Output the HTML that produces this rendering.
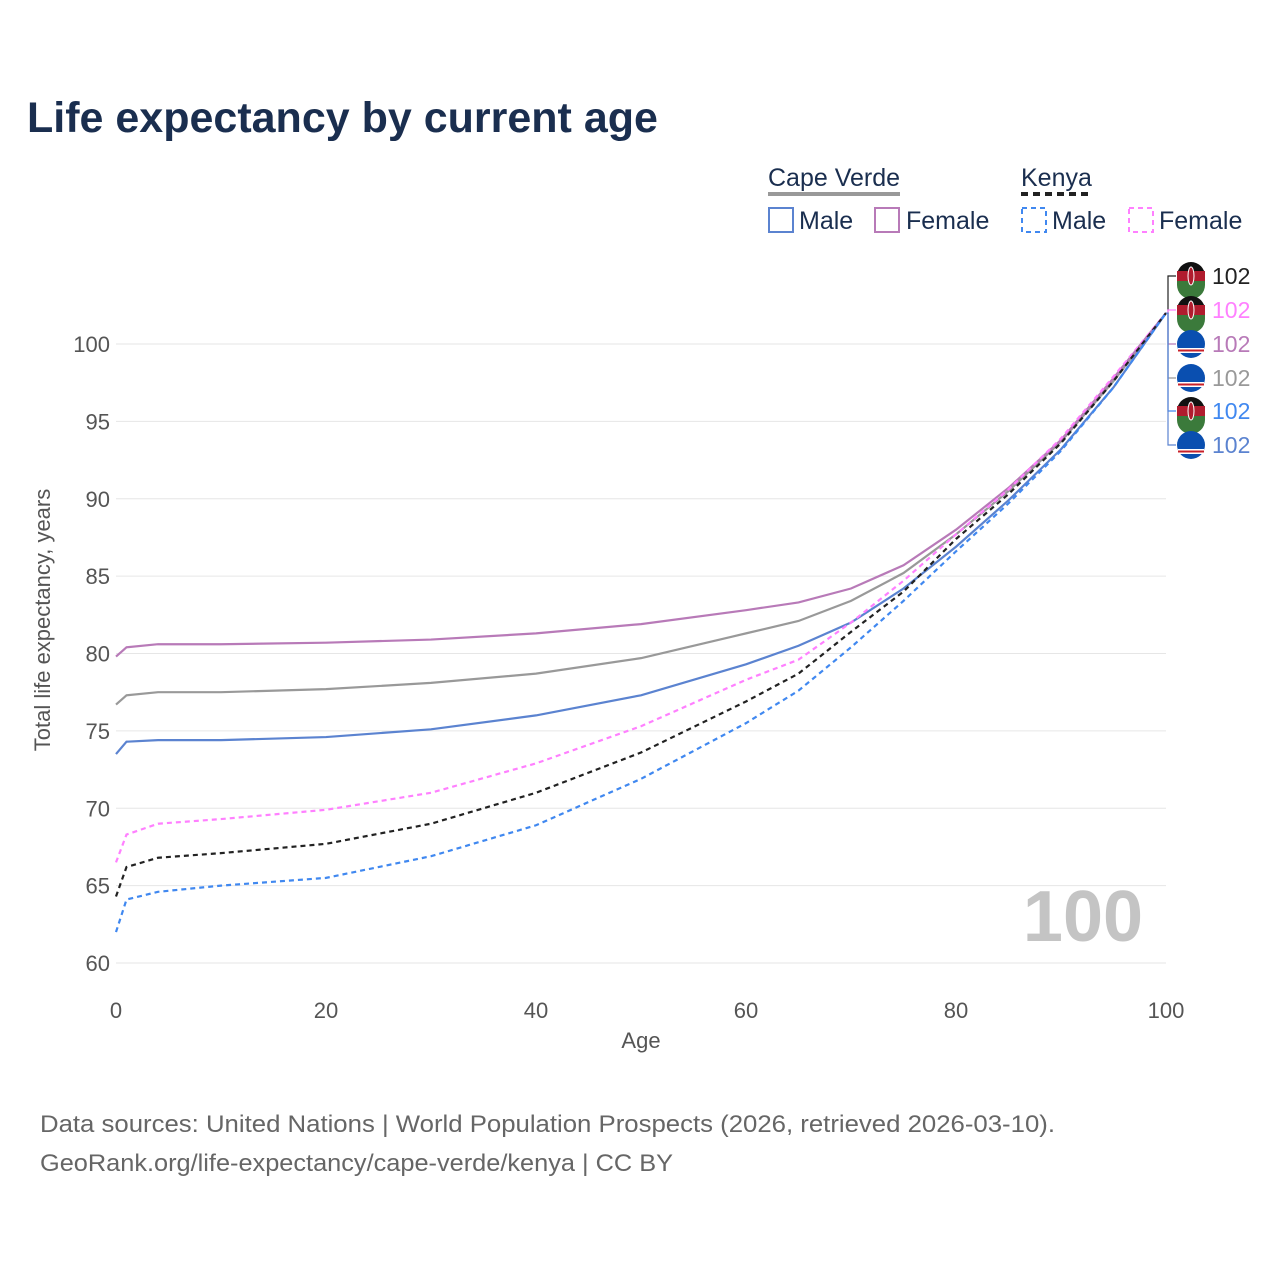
<!DOCTYPE html>
<html><head><meta charset="utf-8"><style>
body{margin:0;background:#fff;width:1280px;height:1280px;overflow:hidden;font-family:"Liberation Sans",sans-serif}
</style></head><body>
<svg id="s" width="1280" height="1280" xmlns="http://www.w3.org/2000/svg" font-family="Liberation Sans, sans-serif">
<text x="27" y="132" font-size="43" font-weight="bold" fill="#1a2e4f">Life expectancy by current age</text>
<g font-size="25" fill="#1a2e4f">
<text x="768" y="186">Cape Verde</text>
<rect x="768" y="192" width="132" height="4" fill="#999"/>
<text x="1021" y="186">Kenya</text>
<line x1="1021" y1="194" x2="1092" y2="194" stroke="#222" stroke-width="4" stroke-dasharray="7,5"/>
<rect x="769" y="208" width="24" height="24" fill="none" stroke="#5b83d0" stroke-width="2"/>
<text x="799" y="229">Male</text>
<rect x="875" y="208" width="24" height="24" fill="none" stroke="#b87ab8" stroke-width="2"/>
<text x="906" y="229">Female</text>
<rect x="1022" y="208" width="24" height="24" fill="none" stroke="#4088f0" stroke-width="2" stroke-dasharray="5,4"/>
<text x="1052" y="229">Male</text>
<rect x="1129" y="208" width="24" height="24" fill="none" stroke="#ff80ff" stroke-width="2" stroke-dasharray="5,4"/>
<text x="1159" y="229">Female</text>
</g>
<g id="grid" stroke="#e6e6e6" stroke-width="1"></g>
<g id="yl" font-size="22" fill="#555" text-anchor="end"></g>
<g id="xl" font-size="22" fill="#555" text-anchor="middle"></g>
<text x="1083" y="941" font-size="72" font-weight="bold" fill="#c4c4c4" text-anchor="middle">100</text>
<text x="641" y="1048" font-size="22" fill="#555" text-anchor="middle">Age</text>
<text transform="translate(50,620) rotate(-90)" font-size="22" fill="#555" text-anchor="middle">Total life expectancy, years</text>
<g id="lines" fill="none" stroke-width="2.2"></g>
<g id="lab"></g>
<text x="40" y="1132" font-size="24" fill="#666" textLength="1015" lengthAdjust="spacingAndGlyphs">Data sources: United Nations | World Population Prospects (2026, retrieved 2026-03-10).</text>
<text x="40" y="1171" font-size="24" fill="#666" textLength="633" lengthAdjust="spacingAndGlyphs">GeoRank.org/life-expectancy/cape-verde/kenya | CC BY</text>
</svg>
<script>
const NS="http://www.w3.org/2000/svg";
function el(p,t,a,txt){const e=document.createElementNS(NS,t);for(const k in a)e.setAttribute(k,a[k]);if(txt!=null)e.textContent=txt;document.getElementById(p).appendChild(e);return e;}
const X=a=>116+10.5*a, Y=v=>963-(v-60)*15.475;
for(let v=60;v<=100;v+=5){el("grid","line",{x1:116,x2:1166,y1:Y(v),y2:Y(v)});el("yl","text",{x:110,y:Y(v)+8},v);}
for(let a=0;a<=100;a+=20)el("xl","text",{x:X(a),y:1018},a);
const A=[0,1,4,10,20,30,40,50,60,65,70,75,80,85,90,95,100];
const S=[
["#999","",[76.7,77.3,77.5,77.5,77.7,78.1,78.7,79.7,81.3,82.1,83.4,85.2,87.7,90.5,93.7,97.6,102]],
["#b87ab8","",[79.8,80.4,80.6,80.6,80.7,80.9,81.3,81.9,82.8,83.3,84.2,85.7,88,90.7,93.8,97.8,102]],
["#5b83d0","",[73.5,74.3,74.4,74.4,74.6,75.1,76.0,77.3,79.3,80.5,82,84.2,86.9,89.9,93.2,97.2,102]],
["#ff80ff","5,4",[66.5,68.3,69.0,69.3,69.9,71,72.9,75.3,78.3,79.6,82,84.7,87.7,90.6,93.9,97.9,102]],
["#222","5,4",[64.3,66.2,66.8,67.1,67.7,69,71,73.6,76.9,78.7,81.4,84,87.4,90.3,93.6,97.6,102]],
["#4088f0","5,4",[62,64.1,64.6,65,65.5,66.9,68.9,71.9,75.5,77.6,80.4,83.4,86.6,89.7,93.1,97.2,102]]];
S.forEach(s=>{el("lines","polyline",{points:A.map((a,i)=>X(a)+","+Y(s[2][i])).join(" "),stroke:s[0],"stroke-dasharray":s[1]});});
const L=[["#222","k",276],["#ff80ff","k",310],["#b87ab8","c",344],["#999","c",378],["#4088f0","k",411],["#5b83d0","c",445]];
const ey=Y(102);
L.forEach(l=>{
 el("lab","polyline",{points:`1166,${ey} 1168,${ey} 1168,${l[2]} 1176,${l[2]}`,fill:"none",stroke:l[0],"stroke-width":1.2});
 if(l[1]=="k"){el("lab","circle",{cx:1191,cy:l[2],r:14,fill:"#111"});el("lab","rect",{x:1177,y:l[2]-5,width:28,height:10,fill:"#b01c2e"});el("lab","path",{d:`M1177,${l[2]+5}h28v4a14,14 0 0 1 -28,0z`,fill:"#3b7a3b"});el("lab","ellipse",{cx:1191,cy:l[2],rx:3,ry:9,fill:"#b01c2e",stroke:"#fff","stroke-width":1});}
 else{el("lab","circle",{cx:1191,cy:l[2],r:14,fill:"#0a4fb0"});el("lab","rect",{x:1178,y:l[2]+4,width:26,height:5,fill:"#fff"});el("lab","rect",{x:1178,y:l[2]+5.5,width:26,height:2,fill:"#c8202a"});}
 el("lab","text",{x:1212,y:l[2]+8,"font-size":23,fill:l[0]},"102");
});
</script>
</body></html>
